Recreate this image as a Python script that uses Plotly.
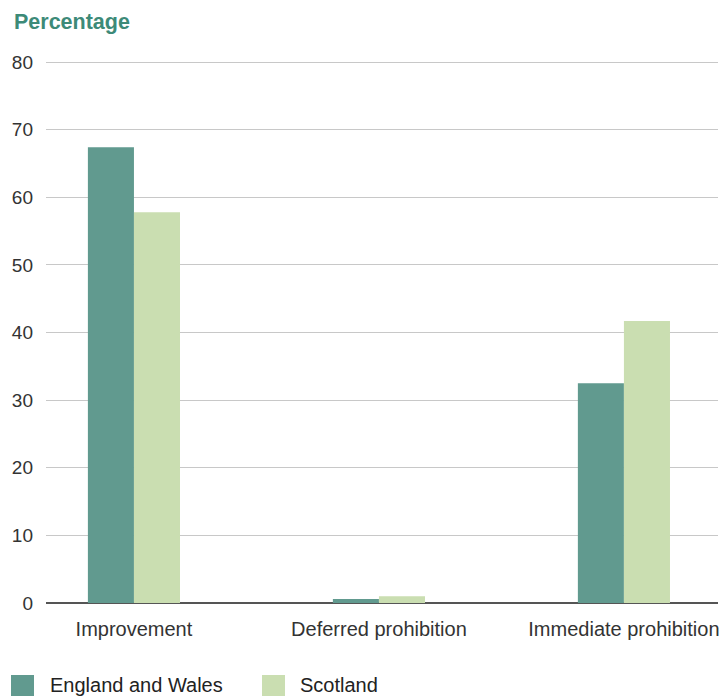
import plotly.graph_objects as go

categories = ["Improvement", "Deferred prohibition", "Immediate prohibition"]
england_wales = [67.4, 0.6, 32.5]
scotland = [57.8, 1.0, 41.7]
y_ticks = [0, 10, 20, 30, 40, 50, 60, 70, 80]
series_names = ["England and Wales", "Scotland"]
series_colors = ["#619a8f", "#cadeb1"]

font_family = "Liberation Sans, Arial, sans-serif"
fig = go.Figure()
for name, vals, col in zip(series_names, [england_wales, scotland], series_colors):
    fig.add_trace(go.Bar(x=categories, y=vals, name=name,
                         marker=dict(color=col, line=dict(width=0))))

fig.update_layout(
    width=722, height=696,
    margin=dict(l=46, r=4, t=60, b=93, autoexpand=False),
    paper_bgcolor="white", plot_bgcolor="white",
    font=dict(family=font_family, size=20, color="#333333"),
    barmode="group", bargap=0.624, bargroupgap=0,
    xaxis=dict(range=[-0.359, 2.384], showgrid=False, ticks="", showline=False,
               tickangle=0, automargin=False, ticklabelstandoff=12,
               tickfont=dict(size=20, color="#333333")),
    yaxis=dict(range=[0, 80.3], tickvals=y_ticks, showgrid=True, gridcolor="#c8c8c8",
               gridwidth=1, zeroline=True, zerolinecolor="#555555", zerolinewidth=1.5,
               ticks="", ticklabelstandoff=12, automargin=False,
               tickfont=dict(size=19, color="#333333")),
    showlegend=False,
)

# legend drawn manually (square swatch + label), pixel-based paper positions
plot_top, plot_bottom = 60, 603
plot_left, plot_right = 46, 718
def py(p):
    return (plot_bottom - p) / (plot_bottom - plot_top)
def px(p):
    return (p - plot_left) / (plot_right - plot_left)

leg_x0 = [11, 262]
leg_x1 = [34, 285]
leg_tx = [48, 298]
for name, col, x0, x1, tx in zip(series_names, series_colors, leg_x0, leg_x1, leg_tx):
    fig.add_shape(type="rect", xref="paper", yref="paper", x0=px(x0), x1=px(x1),
                  y0=py(675), y1=py(700), fillcolor=col, line=dict(width=0))
    fig.add_annotation(text=name, xref="paper", yref="paper", x=px(tx), y=py(685),
                       xanchor="left", yanchor="middle", showarrow=False,
                       font=dict(size=20, color="#222222", family=font_family))

fig.add_annotation(text="<b>Percentage</b>", xref="paper", yref="paper",
                   x=px(12), y=py(22), xanchor="left", yanchor="middle",
                   showarrow=False, font=dict(size=21.5, color="#3d8a78", family=font_family))
fig.write_html("out.html")
